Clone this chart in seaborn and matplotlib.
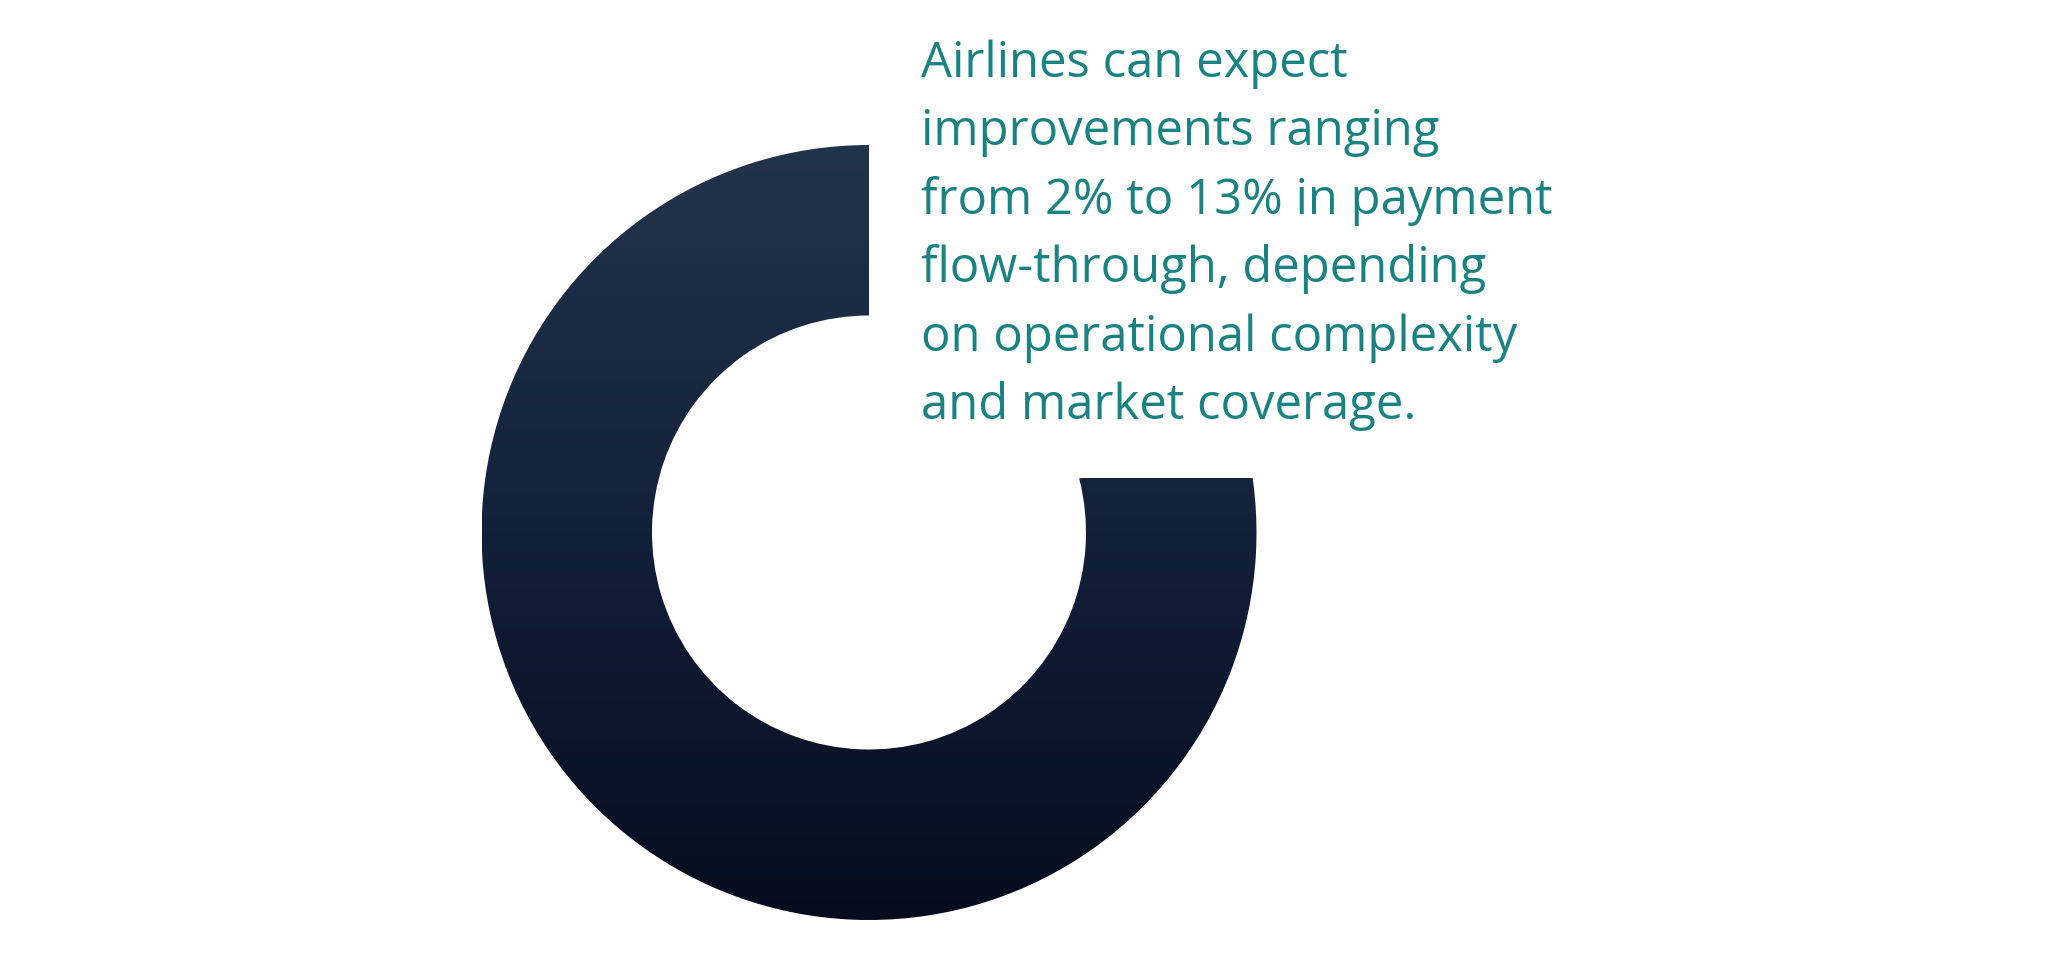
import numpy as np
import matplotlib
matplotlib.use("Agg")
import matplotlib.pyplot as plt
import seaborn as sns
from matplotlib.colors import LinearSegmentedColormap, Normalize

# ---- data ----
share_labels = ["Covered", "Gap"]
share_values = [79, 21]
text_lines = [
    "Airlines can expect",
    "improvements ranging",
    "from 2% to 13% in payment",
    "flow-through, depending",
    "on operational complexity",
    "and market coverage.",
]

# ---- style ----
sns.set_theme(style="white")
plt.rcParams['font.family'] = ['Open Sans', 'DejaVu Sans']

W, H = 2048, 959
fig = plt.figure(figsize=(W / 100, H / 100), dpi=100)
fig.patch.set_facecolor("white")

# donut geometry in pixels
cx, cy_top, R = 869.0, 532.5, 387.5
cy = H - cy_top
S = 2.2 * R
ax = fig.add_axes([(cx - S / 2) / W, (cy - S / 2) / H, S / W, S / H])

ring_width = 0.44
wedges, _ = ax.pie(share_values, labels=None, startangle=90, counterclock=True,
                   radius=1.0, colors=["none", "none"],
                   wedgeprops=dict(width=ring_width, linewidth=0, edgecolor="none"))

# horizontal cut level derived from the wedge end angle at the inner radius
theta_end = np.deg2rad(90 + 360 * share_values[0] / sum(share_values))
y_cut = (1 - ring_width) * np.sin(theta_end)

cmap = LinearSegmentedColormap.from_list("navy", ["#050c1e", "#13203a", "#22344b"])
norm = Normalize(vmin=-1, vmax=1)

ys_a = np.linspace(-1, y_cut, 400)[:, None]
im_a = ax.imshow(ys_a, cmap=cmap, norm=norm, origin="lower",
                 extent=[-1, 1, -1, y_cut], aspect="auto", interpolation="bilinear")
im_a.set_clip_path(wedges[0])
ys_b = np.linspace(y_cut, 1, 400)[:, None]
im_b = ax.imshow(ys_b, cmap=cmap, norm=norm, origin="lower",
                 extent=[-1, 0, y_cut, 1], aspect="auto", interpolation="bilinear")
im_b.set_clip_path(wedges[0])

ax.set_xlim(-1.1, 1.1)
ax.set_ylim(-1.1, 1.1)
ax.set_aspect("equal")
ax.axis("off")

# ---- text ----
x0 = 921 / W
base0, step = 77.0, 68.4
for i, line in enumerate(text_lines):
    fig.text(x0, 1 - (base0 + i * step) / H, line, ha="left", va="baseline",
             fontsize=35.3, color="#1a8282")

fig.savefig("out.png", dpi=100, facecolor="white")
